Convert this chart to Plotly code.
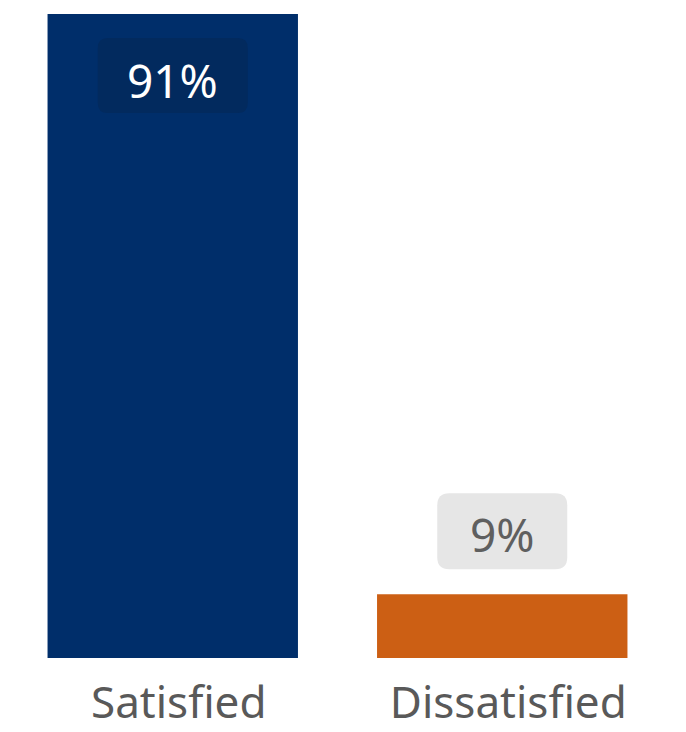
import plotly.graph_objects as go

categories = ["Satisfied", "Dissatisfied"]
values = [91, 9]
labels = ["91%", "9%"]
bar_colors = ["#002E6A", "#CC5F14"]

FONT = "Segoe UI, Noto Sans, Open Sans, sans-serif"

fig = go.Figure(go.Bar(
    x=categories, y=values, marker=dict(color=bar_colors, line=dict(width=0)),
    width=0.76, hoverinfo="skip"
))

def rrect(w, h, y0, r):
    x0, x1 = -w / 2, w / 2
    y1 = y0 + h
    return (f"M{x0+r},{y0} L{x1-r},{y0} Q{x1},{y0} {x1},{y0+r} L{x1},{y1-r} Q{x1},{y1} {x1-r},{y1} "
            f"L{x0+r},{y1} Q{x0},{y1} {x0},{y1-r} L{x0},{y0+r} Q{x0},{y0} {x0+r},{y0} Z")

# 91% label inside the bar top
fig.add_shape(type="path", xref="x", yref="y", xsizemode="pixel", ysizemode="pixel",
              xanchor=categories[0], yanchor=values[0], path=rrect(150, 75, -99, 10),
              fillcolor="#022A5E", line=dict(width=0), layer="above")
fig.add_annotation(x=categories[0], y=values[0], yshift=-66, text=labels[0], showarrow=False,
                   font=dict(family=FONT, size=46, color="white"))

# 9% label above the bar
fig.add_shape(type="path", xref="x", yref="y", xsizemode="pixel", ysizemode="pixel",
              xanchor=categories[1], yanchor=values[1], path=rrect(130, 76, 25, 12),
              fillcolor="#E6E6E6", line=dict(width=0), layer="above")
fig.add_annotation(x=categories[1], y=values[1], yshift=60, text=labels[1], showarrow=False,
                   font=dict(family=FONT, size=46, color="#5F5F5F"))

fig.update_layout(
    width=686, height=732,
    margin=dict(l=0, r=27, t=6, b=82),
    paper_bgcolor="white", plot_bgcolor="white",
    showlegend=False, bargap=0.24,
    xaxis=dict(showline=False, showgrid=False, zeroline=False, ticks="",
               ticklabelstandoff=15, ticklabelshift=6,
               tickfont=dict(family=FONT, size=44, color="#595959")),
    yaxis=dict(range=[0, 91], visible=False, showgrid=False, zeroline=False),
)

fig.write_html("out.html")
